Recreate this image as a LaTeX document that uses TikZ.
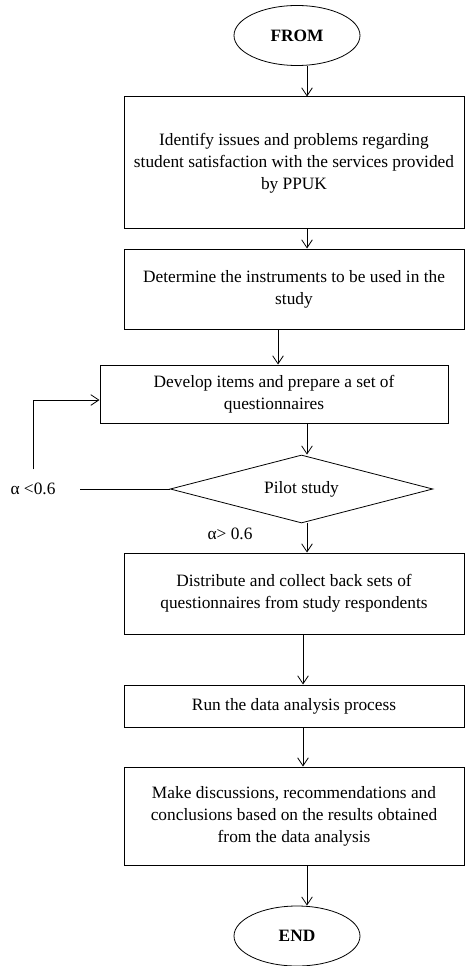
\documentclass[tikz,border=0pt]{standalone}
\usepackage{fontspec}
\setmainfont{Liberation Serif}
\usetikzlibrary{shapes.geometric,arrows.meta}

\begin{document}
\begin{tikzpicture}[
    x=0.75pt, y=-0.75pt,
    every node/.style={font=\fontsize{13pt}{16.5pt}\selectfont},
    boxstyle/.style={rectangle, draw, line width=0.75pt, align=center, minimum width=255pt, inner sep=4pt},
    endstyle/.style={ellipse, draw, line width=0.6pt, minimum width=94.5pt, minimum height=45pt, inner sep=0pt, font=\fontsize{13pt}{16.5pt}\selectfont\bfseries},
    decstyle/.style={diamond, aspect=3.9, draw, line width=0.6pt, minimum width=197pt, minimum height=51pt, inner sep=0pt},
    arrowstyle/.style={-{Straight Barb[length=6pt,width=8pt]}, line width=0.6pt}
]
    \useasboundingbox (0,0) rectangle (465,966);

    \node[endstyle] (from) at (297,35.5) {FROM};
    \node[boxstyle, minimum height=99pt] (box1) at (294,163) {Identify issues and problems regarding\\student satisfaction with the services provided\\by PPUK};
    \node[boxstyle, minimum height=60pt] (box2) at (294,289) {Determine the instruments to be used in the\\study};
    \node[boxstyle, minimum width=261pt, minimum height=43.5pt] (box3) at (274,394) {Develop items and prepare a set of\\questionnaires};
    \node[decstyle] (dia) at (301.5,489) {Pilot study};
    \node[boxstyle, minimum height=60.75pt] (box4) at (294,593.5) {Distribute and collect back sets of\\questionnaires from study respondents};
    \node[boxstyle, minimum height=31.5pt] (box5) at (294,706) {Run the data analysis process};
    \node[boxstyle, minimum height=73.5pt] (box6) at (294,816) {Make discussions, recommendations and\\conclusions based on the results obtained\\from the data analysis};
    \node[endstyle] (end) at (297,936) {END};

    \node (lt) at (33,489) {α <0.6};
    \node (gt) at (230,534) {α> 0.6};

    \coordinate (colA) at (307,0);
    \coordinate (colB) at (278,0);
    \coordinate (colC) at (303,0);

    \draw[arrowstyle] (from.south -| colA) -- (box1.north -| colA);
    \draw[arrowstyle] (box1.south -| colA) -- (box2.north -| colA);
    \draw[arrowstyle] (box2.south -| colB) -- (box3.north -| colB);
    \draw[arrowstyle] (box3.south -| colA) -- (dia.north -| colA);
    \draw[arrowstyle] (dia.south -| colA) -- (box4.north -| colA);
    \draw[arrowstyle] (box4.south -| colC) -- (box5.north -| colC);
    \draw[arrowstyle] (box5.south -| colC) -- (box6.north -| colC);
    \draw[arrowstyle] (box6.south -| colA) -- (end.north -| colA);

    \draw[line width=0.6pt] (dia.west) -- ([xshift=15pt]lt.east);
    \draw[arrowstyle] ([yshift=6.75pt]lt.north) |- ([yshift=-4.5pt]box3.west);
\end{tikzpicture}
\end{document}
